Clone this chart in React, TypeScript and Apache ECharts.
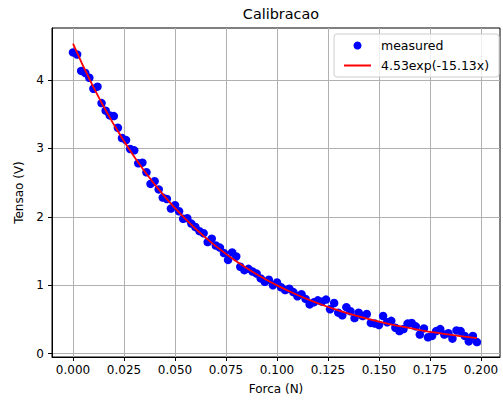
import React, { useEffect, useRef } from "react";
import * as echarts from "echarts";

const forceN: number[] = [
  0.000, 0.002, 0.004, 0.006, 0.008, 0.010, 0.012, 0.014, 0.016, 0.018,
  0.020, 0.022, 0.024, 0.026, 0.028, 0.030, 0.032, 0.034, 0.036, 0.038,
  0.040, 0.042, 0.044, 0.046, 0.048, 0.050, 0.052, 0.054, 0.056, 0.058,
  0.060, 0.062, 0.064, 0.066, 0.068, 0.070, 0.072, 0.074, 0.076, 0.078,
  0.080, 0.082, 0.084, 0.086, 0.088, 0.090, 0.092, 0.094, 0.096, 0.098,
  0.100, 0.102, 0.104, 0.106, 0.108, 0.110, 0.112, 0.114, 0.116, 0.118,
  0.120, 0.122, 0.124, 0.126, 0.128, 0.130, 0.132, 0.134, 0.136, 0.138,
  0.140, 0.142, 0.144, 0.146, 0.148, 0.150, 0.152, 0.154, 0.156, 0.158,
  0.160, 0.162, 0.164, 0.166, 0.168, 0.170, 0.172, 0.174, 0.176, 0.178,
  0.180, 0.182, 0.184, 0.186, 0.188, 0.190, 0.192, 0.194, 0.196, 0.198,
];

const measuredV: number[] = [
  4.40, 4.37, 4.13, 4.10, 4.03, 3.87, 3.90, 3.66, 3.55, 3.48,
  3.47, 3.30, 3.15, 3.12, 2.99, 2.97, 2.78, 2.79, 2.65, 2.48,
  2.52, 2.40, 2.28, 2.26, 2.12, 2.17, 2.08, 1.97, 1.98, 1.90,
  1.85, 1.79, 1.76, 1.63, 1.68, 1.58, 1.55, 1.47, 1.37, 1.48,
  1.42, 1.27, 1.22, 1.24, 1.20, 1.17, 1.10, 1.05, 1.08, 1.00,
  1.04, 0.97, 0.93, 0.95, 0.90, 0.84, 0.87, 0.80, 0.72, 0.75,
  0.78, 0.76, 0.79, 0.65, 0.74, 0.60, 0.56, 0.68, 0.62, 0.52,
  0.60, 0.55, 0.58, 0.45, 0.44, 0.42, 0.55, 0.46, 0.48, 0.38,
  0.33, 0.36, 0.44, 0.45, 0.40, 0.28, 0.37, 0.24, 0.26, 0.33,
  0.36, 0.28, 0.30, 0.22, 0.34, 0.33, 0.26, 0.18, 0.26, 0.17,
];

const fitX: number[] = [
  0.00, 0.01, 0.02, 0.03, 0.04, 0.05, 0.06, 0.07, 0.08, 0.09,
  0.10, 0.11, 0.12, 0.13, 0.14, 0.15, 0.16, 0.17, 0.18, 0.19, 0.198,
];
const fitV: number[] = [
  4.530, 3.894, 3.347, 2.877, 2.473, 2.126, 1.827, 1.571, 1.350, 1.161,
  0.998, 0.858, 0.737, 0.634, 0.545, 0.468, 0.403, 0.346, 0.298, 0.256, 0.227,
];

const xTicks: number[] = [0, 0.025, 0.05, 0.075, 0.1, 0.125, 0.15, 0.175, 0.2];
const yTicks: number[] = [0, 1, 2, 3, 4];

const FONT = "DejaVu Sans";

export default function App() {
  const ref = useRef<HTMLDivElement>(null);
  useEffect(() => {
    if (!ref.current) return;
    const chart = echarts.init(ref.current, null, { renderer: "svg" });
    chart.setOption({
      animation: false,
      backgroundColor: "#ffffff",
      textStyle: { fontFamily: FONT },
      title: {
        text: "Calibracao",
        left: 276,
        top: 2,
        textAlign: "center",
        textStyle: { fontFamily: FONT, fontSize: 14.4, fontWeight: "normal", color: "#000" },
      },
      grid: {
        left: 52,
        right: 3,
        top: 28,
        bottom: 40,
        show: true,
        borderColor: "#000",
        borderWidth: 1,
        backgroundColor: "#fff",
      },
      legend: {
        orient: "vertical",
        left: 334,
        top: 34,
        padding: [5, 10, 5, 9],
        itemWidth: 27,
        itemHeight: 8,
        itemGap: 7,
        backgroundColor: "rgba(255,255,255,0.8)",
        borderColor: "#cccccc",
        borderWidth: 1,
        borderRadius: 3,
        textStyle: { fontFamily: FONT, fontSize: 12.5, color: "#000", padding: [0, 0, 0, 5] },
        data: [
          { name: "measured", icon: "circle" },
          { name: "4.53exp(-15.13x)", itemStyle: { opacity: 0 } },
        ],
      },
      xAxis: {
        type: "value",
        min: -0.0103,
        max: 0.2093,
        name: "Forca (N)",
        nameLocation: "middle",
        nameGap: 26,
        nameTextStyle: { fontFamily: FONT, fontSize: 12, color: "#000" },
        axisLine: { show: true, onZero: false, lineStyle: { color: "#000", width: 1 } },
        axisTick: { show: true, length: 4, lineStyle: { color: "#000" }, customValues: xTicks },
        axisLabel: {
          customValues: xTicks,
          margin: 7,
          fontFamily: FONT,
          fontSize: 12,
          color: "#000",
          formatter: (v: number) => v.toFixed(3),
        },
        splitLine: { show: true, lineStyle: { color: "#b0b0b0", width: 1 } },
      },
      yAxis: {
        type: "value",
        min: -0.048,
        max: 4.757,
        name: "Tensao (V)",
        nameLocation: "middle",
        nameGap: 19,
        nameTextStyle: { fontFamily: FONT, fontSize: 12, color: "#000" },
        axisLine: { show: true, onZero: false, lineStyle: { color: "#000", width: 1 } },
        axisTick: { show: true, length: 4, lineStyle: { color: "#000" }, customValues: yTicks },
        axisLabel: {
          customValues: yTicks,
          margin: 8,
          fontFamily: FONT,
          fontSize: 12,
          color: "#000",
          formatter: (v: number) => String(v),
        },
        splitLine: { show: true, lineStyle: { color: "#b0b0b0", width: 1 } },
      },
      series: [
        {
          name: "measured",
          type: "scatter",
          symbol: "circle",
          symbolSize: 8.5,
          itemStyle: { color: "#0000ff", opacity: 1 },
          data: forceN.map((x, i) => [x, measuredV[i]]),
          z: 2,
        },
        {
          name: "4.53exp(-15.13x)",
          type: "line",
          smooth: true,
          symbol: "none",
          lineStyle: { color: "#ff0000", width: 1.8 },
          itemStyle: { color: "#ff0000" },
          data: fitX.map((x, i) => [x, fitV[i]]),
          z: 3,
        },
      ],
    });
    return () => chart.dispose();
  }, []);
  return (
    <div
      ref={ref}
      style={{ position: "fixed", left: 0, top: 0, width: 503, height: 400 }}
    />
  );
}
